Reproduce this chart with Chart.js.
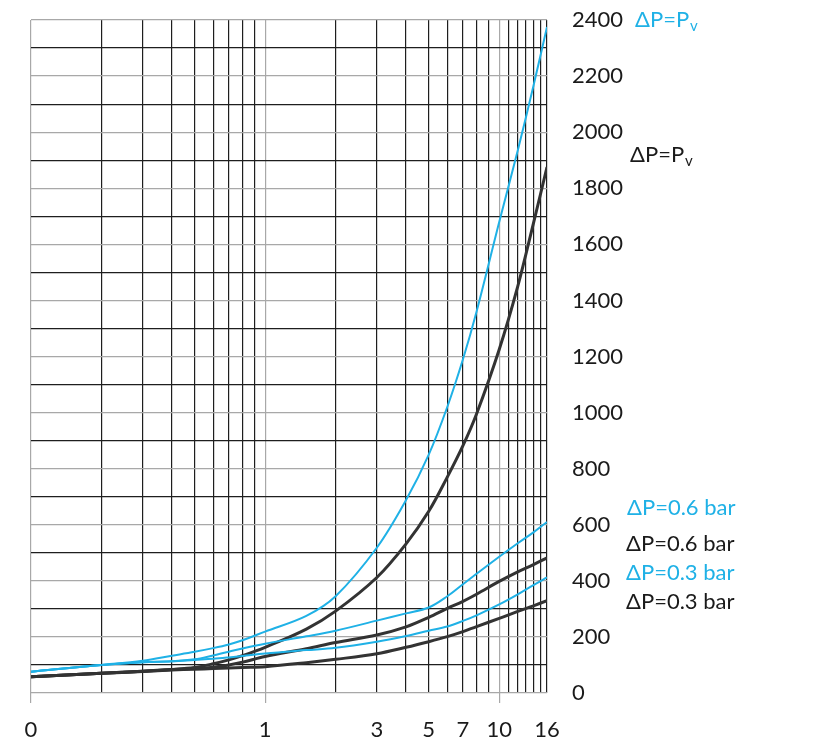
<!DOCTYPE html>
<html>
<head>
<meta charset="utf-8">
<script src="https://cdn.jsdelivr.net/npm/chart.js@4.4.1/dist/chart.umd.min.js"></script>
<style>
  html, body { margin: 0; padding: 0; background: #fff; }
  #wrap { width: 825px; height: 741px; }
</style>
</head>
<body>
<div id="wrap"><canvas id="chart"></canvas></div>
<script>
// x positions of the readings (log axis)
const xValues = [0.1, 0.2, 0.3, 0.4, 0.5, 0.6, 0.7, 0.8, 1, 1.5, 2, 3, 4, 5, 6, 7, 8, 10, 12, 14, 16];

// curves
const bluePv   = [76, 100, 115, 133, 147, 160, 173, 188, 219, 275, 345, 518, 688, 850, 1020, 1190, 1360, 1680, 1935, 2165, 2375];
const blackPv  = [58, 70, 78, 84, 91, 104, 118, 133, 163, 228, 292, 412, 532, 648, 770, 882, 995, 1225, 1450, 1675, 1875];
const blue06   = [76, 100, 110, 113, 120, 134, 147, 159, 176, 202, 222, 258, 284, 305, 345, 388, 425, 486, 534, 573, 610];
const black06  = [58, 70, 78, 84, 88, 92, 100, 110, 130, 158, 180, 207, 236, 270, 302, 327, 352, 398, 432, 458, 482];
const blue03   = [76, 100, 110, 113, 118, 122, 127, 132, 141, 153, 161, 183, 203, 222, 237, 257, 277, 316, 352, 385, 412];
const black03  = [58, 70, 77, 82, 85, 87, 89, 91, 94, 108, 120, 140, 163, 183, 201, 219, 237, 266, 291, 311, 329];

// axis grid and labels
const xGridValues = [0.1, 0.2, 0.3, 0.4, 0.5, 0.6, 0.7, 0.8, 0.9, 1, 2, 3, 4, 5, 6, 7, 8, 9, 10, 11, 12, 13, 14, 15, 16];
const xMajorValues = [0.1, 1, 10];
const xLabelValues = [0.1, 1, 3, 5, 7, 10, 16];
const xLabelTexts  = ["0", "1", "3", "5", "7", "10", "16"];
const yMin = 0, yMax = 2400, yStep = 100, yLabelStep = 200;

const BLUE = "#1fb1e6";
const DARK = "#333333";
const GRID_DARK = "#1e1e1e";
const GRID_GREY = "#a8a8a8";
const FONT = "Lato, 'Open Sans', sans-serif";

// curve end labels (value = vertical anchor on the y scale)
const notes = [
  { text: "\u0394P=P", sub: "v", color: BLUE, value: 2400, dx: 88 },
  { text: "\u0394P=P", sub: "v", color: "#1a1a1a", value: 1919, dx: 83 },
  { text: "\u0394P=0.6 bar", color: BLUE, value: 660, dx: 80 },
  { text: "\u0394P=0.6 bar", color: "#1a1a1a", value: 531, dx: 79 },
  { text: "\u0394P=0.3 bar", color: BLUE, value: 428, dx: 79 },
  { text: "\u0394P=0.3 bar", color: "#1a1a1a", value: 325, dx: 79 }
];

function series(vals) {
  return xValues.map((x, i) => ({ x: x, y: vals[i] }));
}

function line(vals, color, width) {
  return {
    data: series(vals),
    borderColor: color,
    borderWidth: width,
    pointRadius: 0,
    fill: false,
    tension: 0.35
  };
}

const notesPlugin = {
  id: "notes",
  afterDraw(chart) {
    const ctx = chart.ctx;
    const y = chart.scales.y;
    const right = chart.chartArea.right;
    ctx.save();
    ctx.textBaseline = "middle";
    ctx.textAlign = "left";
    for (const n of notes) {
      const px = right + n.dx;
      const py = y.getPixelForValue(n.value);
      ctx.fillStyle = n.color;
      ctx.font = "22px " + FONT;
      ctx.fillText(n.text, px, py);
      if (n.sub) {
        const w = ctx.measureText(n.text).width;
        ctx.font = "15px " + FONT;
        ctx.fillText(n.sub, px + w + 1, py + 6);
      }
    }
    ctx.restore();
  }
};

new Chart(document.getElementById("chart"), {
  type: "line",
  data: {
    datasets: [
      line(bluePv, BLUE, 2),
      line(blue06, BLUE, 2),
      line(blue03, BLUE, 2),
      line(blackPv, DARK, 3),
      line(black06, DARK, 3),
      line(black03, DARK, 3)
    ]
  },
  options: {
    responsive: true,
    maintainAspectRatio: false,
    animation: false,
    layout: { padding: { left: 31, top: 20, right: 0, bottom: 0 } },
    plugins: { legend: { display: false }, tooltip: { enabled: false } },
    scales: {
      x: {
        type: "logarithmic",
        min: 0.1,
        max: 16,
        border: { display: false },
        afterBuildTicks: (scale) => { scale.ticks = xGridValues.map(v => ({ value: v })); },
        afterFit: (scale) => { scale.height = 48; },
        grid: {
          color: (c) => xMajorValues.includes(c.tick.value) ? GRID_GREY : GRID_DARK,
          tickColor: (c) => xMajorValues.includes(c.tick.value) ? GRID_GREY : "rgba(0,0,0,0)",
          lineWidth: 1.2,
          tickLength: 10
        },
        ticks: {
          autoSkip: false,
          maxRotation: 0,
          padding: 14,
          color: "#1a1a1a",
          font: { family: FONT, size: 22 },
          callback: (v) => {
            const i = xLabelValues.indexOf(v);
            return i >= 0 ? xLabelTexts[i] : "";
          }
        }
      },
      y: {
        position: "right",
        min: yMin,
        max: yMax,
        border: { display: false },
        afterFit: (scale) => {
          scale.width = 278;
          scale.paddingTop = 0;
          scale.paddingBottom = 0;
        },
        grid: {
          color: (c) => c.tick.value % yLabelStep === 0 ? GRID_GREY : GRID_DARK,
          lineWidth: 1.2,
          drawTicks: false
        },
        ticks: {
          stepSize: yStep,
          autoSkip: false,
          padding: 25,
          color: "#1a1a1a",
          font: { family: FONT, size: 22 },
          callback: (v) => v % yLabelStep === 0 ? String(v) : ""
        }
      }
    }
  },
  plugins: [notesPlugin]
});
</script>
</body>
</html>
